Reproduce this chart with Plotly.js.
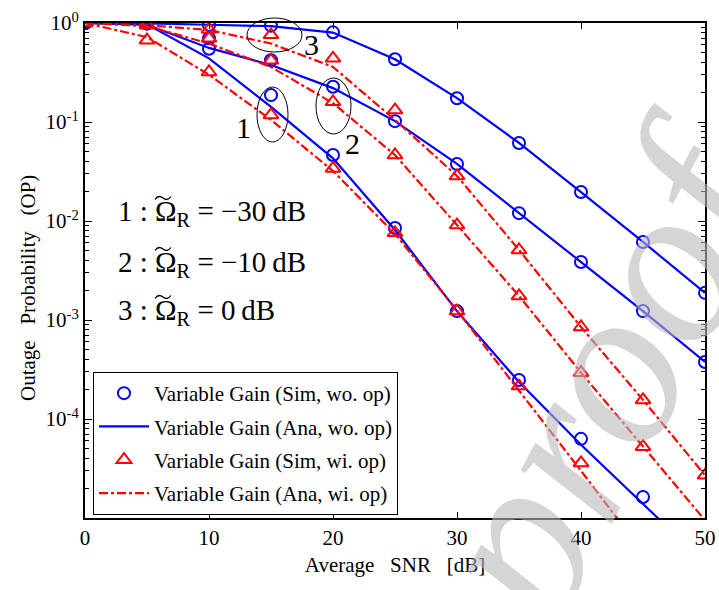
<!DOCTYPE html>
<html><head><meta charset="utf-8">
<script src="https://cdn.plot.ly/plotly-3.0.1.min.js"></script>
<style>html,body{margin:0;padding:0;background:#fff}#chart{width:719px;height:590px}</style>
</head><body><div id="chart"></div>
<script>
const snr = [0,5,10,15,20,25,30,35,40,45,50];
// Without op (blue)
const simWo1 = [1,0.99,0.55,0.187,0.0464,0.0085,0.00123,0.000248,6.3e-5,1.63e-5,null];
const anaWo1 = [1,0.97,0.44,0.142,0.043,0.0081,0.00123,0.000236,5.5e-5,1.4e-5,3.5e-6];
const simWo2 = [1,0.99,0.70,0.42,0.227,0.102,0.0377,0.012,0.00385,0.00123,0.000377];
const anaWo2 = [1,0.96,0.56,0.376,0.22,0.102,0.0377,0.012,0.00385,0.00123,0.000377];
const simWo3 = [1,1,0.955,0.94,0.805,0.43,0.174,0.0614,0.0196,0.00614,0.00188];
const anaWo3 = [1,0.99,0.96,0.93,0.80,0.43,0.174,0.0614,0.0196,0.00614,0.00188];
// With op (red)
const simWi1 = [1,0.67,0.32,0.118,0.034,0.0076,0.00123,0.000215,3.6e-5,null,null];
const anaWi1 = [1,0.72,0.30,0.105,0.032,0.0074,0.00125,0.000195,3.0e-5,4.5e-6,7e-7];
const simWi2 = [1,0.95,0.70,0.42,0.160,0.0464,0.0091,0.00175,0.000294,5.25e-5,null];
const anaWi2 = [1,0.93,0.62,0.36,0.155,0.0464,0.0091,0.00175,0.000294,5.25e-5,9.5e-6];
const simWi3 = [1,0.97,0.86,0.76,0.44,0.132,0.0285,0.0051,0.00085,0.000156,2.7e-5];
const anaWi3 = [1,0.95,0.85,0.62,0.36,0.105,0.0285,0.0051,0.00085,0.000156,2.7e-5];

const yTickVals = [1,0.1,0.01,0.001,0.0001];
const yTickText = ['10<sup>0</sup>','10<sup>-1</sup>','10<sup>-2</sup>','10<sup>-3</sup>','10<sup>-4</sup>'];
const yMinorVals = [];
[1e-5,1e-4,1e-3,1e-2,1e-1].forEach(d=>[2,3,4,5,6,7,8,9].forEach(m=>yMinorVals.push(m*d)));
const xTickVals = [0,10,20,30,40,50];

const legNames = ['Variable Gain (Sim, wo. op)','Variable Gain (Ana, wo. op)','Variable Gain (Sim, wi. op)','Variable Gain (Ana, wi. op)'];
const omegaLabels = ['1 : \u03A9<sub>R</sub> = \u221230\u2009dB','2 : \u03A9<sub>R</sub> = \u221210\u2009dB','3 : \u03A9<sub>R</sub> = 0\u2009dB'];
const curveLabels = ['1','2','3'];
const xTitle = 'Average\u00a0\u00a0 SNR\u00a0\u00a0 [dB]';
const yTitle = 'Outage\u00a0\u00a0 Probability\u00a0\u00a0 (OP)';

const BLUE = '#0000ff', RED = '#ff0000';
const FONT = '"Liberation Serif", "Times New Roman", serif';

function sim(y, color, symbol, name, show, grp){
  return {x:snr, y:y, type:'scatter', mode:'markers', name:name, showlegend:show, legendgroup:grp,
    marker:{symbol:symbol, size: symbol==='circle-open'?12:13, color:color, line:{width:2, color:color}}};
}
function ana(y, color, dash, name, show, grp){
  return {x:snr, y:y, type:'scatter', mode:'lines', name:name, showlegend:show, legendgroup:grp,
    line:{color:color, width:2.2, dash:dash}};
}
const traces = [
  sim(simWo1, BLUE,'circle-open',legNames[0],true,'a'),
  sim(simWo2, BLUE,'circle-open',legNames[0],false,'a'),
  sim(simWo3, BLUE,'circle-open',legNames[0],false,'a'),
  ana(anaWo1, BLUE,'solid',legNames[1],true,'b'),
  ana(anaWo2, BLUE,'solid',legNames[1],false,'b'),
  ana(anaWo3, BLUE,'solid',legNames[1],false,'b'),
  sim(simWi1, RED,'triangle-up-open',legNames[2],true,'c'),
  sim(simWi2, RED,'triangle-up-open',legNames[2],false,'c'),
  sim(simWi3, RED,'triangle-up-open',legNames[2],false,'c'),
  ana(anaWi1, RED,'dashdot',legNames[3],true,'d'),
  ana(anaWi2, RED,'dashdot',legNames[3],false,'d'),
  ana(anaWi3, RED,'dashdot',legNames[3],false,'d')
];

// plot-area pixel helpers (margins l=85, t=23, width 620, height 495)
const PX = p => (p-85)/620, PY = p => (518-p)/495;
const lineCentres = [213, 264, 312];
const annotations = omegaLabels.map((t,i)=>({xref:'paper',yref:'paper',x:PX(116),y:PY(lineCentres[i]),xanchor:'left',yanchor:'middle',
  text:t, showarrow:false, font:{family:FONT,size:29,color:'#000'}}));
[[243,127],[352,143],[311,45]].forEach((p,i)=>annotations.push({xref:'paper',yref:'paper',x:PX(p[0]),y:PY(p[1]),
  xanchor:'center',yanchor:'middle',text:curveLabels[i],showarrow:false,font:{family:FONT,size:30,color:'#000'}}));
annotations.push({xref:'paper',yref:'paper',x:PX(28),y:PY(288),xanchor:'center',yanchor:'middle',text:yTitle,showarrow:false,
  textangle:-90,font:{family:FONT,size:21,color:'#000'}});
annotations.push({xref:'paper',yref:'paper',x:PX(603),y:PY(376),xanchor:'center',yanchor:'middle',text:'<i>proof</i>',showarrow:false,textangle:-62,
  font:{family:FONT,size:230,color:'rgba(185,185,185,0.6)'}});

const shapes = [
  [257,142,288,87],[316,134,351,78],[247,52,302,18]
].map(e=>({type:'circle',xref:'paper',yref:'paper',x0:PX(e[0]),y0:PY(e[1]),x1:PX(e[2]),y1:PY(e[3]),line:{color:'#000',width:1}}));
// tilde accents over Omega
lineCentres.forEach(c=>{
  const cx = 163, cy = c-15;
  const pts = [[cx-8,cy+1.5],[cx-5,cy-3],[cx-2,cy-1.5],[cx,cy],[cx+2,cy+1.5],[cx+5,cy+3],[cx+8,cy-1.5]];
  const f = q => PX(q[0]).toFixed(5)+','+PY(q[1]).toFixed(5);
  shapes.push({type:'path',xref:'paper',yref:'paper',
    path:'M'+f(pts[0])+' C'+f(pts[1])+' '+f(pts[2])+' '+f(pts[3])+' C'+f(pts[4])+' '+f(pts[5])+' '+f(pts[6]),
    line:{color:'#000',width:1.3}});
});

const layout = {
  width:719, height:590,
  margin:{l:85,r:14,t:23,b:72},
  paper_bgcolor:'#fff', plot_bgcolor:'#fff',
  font:{family:FONT,color:'#000',size:21},
  showlegend:true,
  legend:{x:PX(93),y:PY(372),xanchor:'left',yanchor:'top',bgcolor:'#fff',bordercolor:'#000',borderwidth:1,
    font:{family:FONT,size:21,color:'#000'},traceorder:'grouped',tracegroupgap:3,itemwidth:50},
  xaxis:{range:[0,50],tickvals:xTickVals,ticks:'inside',ticklen:6,tickwidth:1,tickcolor:'#000',
    showline:true,linecolor:'#000',linewidth:2,mirror:'ticks',showgrid:false,zeroline:false,
    tickfont:{family:FONT,size:21},
    title:{text:xTitle,font:{family:FONT,size:21},standoff:8}},
  yaxis:{type:'log',range:[-5,0],tickvals:yTickVals,ticktext:yTickText,ticks:'inside',ticklen:7,tickwidth:1,tickcolor:'#000',
    minor:{tickmode:'array',tickvals:yMinorVals,ticks:'inside',ticklen:4,tickcolor:'#000',showgrid:false},
    showline:true,linecolor:'#000',linewidth:2,mirror:'ticks',showgrid:false,zeroline:false,
    tickfont:{family:FONT,size:21}},
  annotations:annotations,
  shapes:shapes
};
Plotly.newPlot('chart', traces, layout, {displayModeBar:false, staticPlot:true});
</script></body></html>
